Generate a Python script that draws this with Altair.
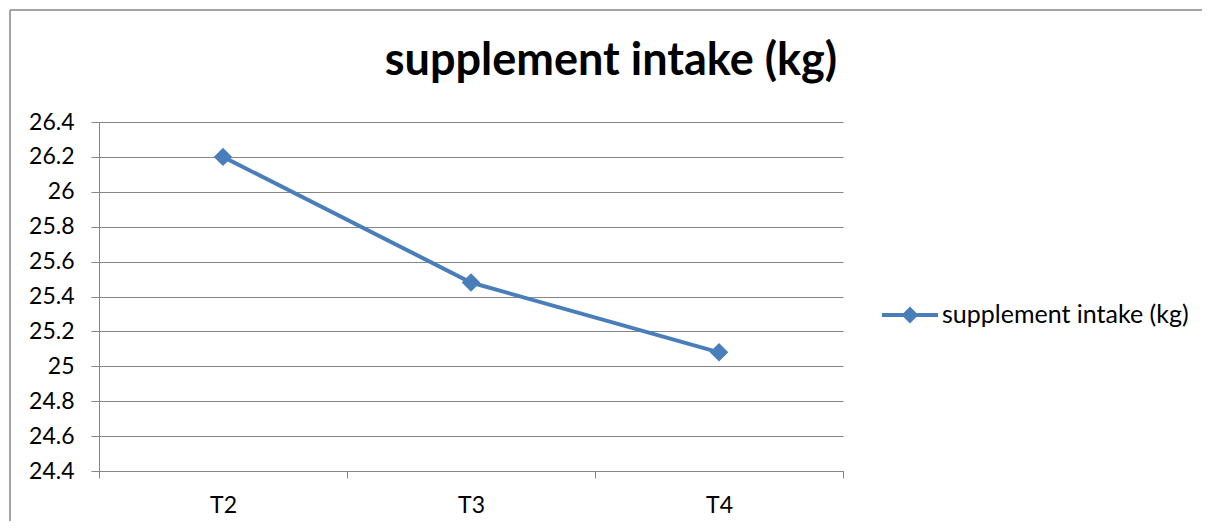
import altair as alt
import pandas as pd

categories = ["T2", "T3", "T4"]
values = [26.2, 25.48, 25.08]
series_name = "supplement intake (kg)"
chart_title = "supplement intake (kg)"
y_ticks = [24.4, 24.6, 24.8, 25.0, 25.2, 25.4, 25.6, 25.8, 26.0, 26.2, 26.4]

df = pd.DataFrame({"cat": categories, "val": values, "series": [series_name] * len(categories)})

BLUE = "#4a7ebb"
GRAY = "#868686"
FONT = "Lato"

legend_path = ("M-1,-0.071L-0.229,-0.071L0,-0.3L0.229,-0.071L1,-0.071L1,0.071"
               "L0.229,0.071L0,0.3L-0.229,0.071L-1,0.071Z")

x_enc = alt.X("cat:N", sort=categories, title=None,
              scale=alt.Scale(paddingInner=0, paddingOuter=0),
              axis=alt.Axis(tickBand="extent", grid=False, tickSize=7, tickColor=GRAY,
                            domainColor=GRAY, labelAngle=0, labelFont=FONT, labelFontSize=23,
                            labelColor="black", labelPadding=16))
y_enc = alt.Y("val:Q", title=None,
              scale=alt.Scale(domain=[24.4, 26.4], nice=False, zero=False),
              axis=alt.Axis(values=y_ticks, format="~g", grid=True, gridColor=GRAY,
                            tickColor=GRAY, domainColor=GRAY, tickSize=8, labelFont=FONT,
                            labelFontSize=23, labelColor="black", labelPadding=17))

base = alt.Chart(df)

line = base.mark_line(color=BLUE, strokeWidth=4).encode(x=x_enc, y=y_enc)

points = base.mark_point(filled=True, shape="diamond", size=340, opacity=1).encode(
    x=x_enc, y=y_enc,
    color=alt.Color("series:N", scale=alt.Scale(range=[BLUE]), title=None,
                    legend=alt.Legend(orient="none", legendX=783, legendY=165, padding=0,
                                      symbolType=legend_path, symbolSize=3136,
                                      symbolStrokeWidth=0, labelFont=FONT, labelFontSize=25,
                                      labelColor="black", labelLimit=500, labelOffset=4)),
)

one = pd.DataFrame({"a": [0]})
frame_left = alt.Chart(one).mark_rule(color=GRAY, strokeWidth=1.5).encode(
    x=alt.value(-89), y=alt.value(-112), y2=alt.value(420))
frame_top = alt.Chart(one).mark_rule(color=GRAY, strokeWidth=1.5).encode(
    x=alt.value(-89), x2=alt.value(1200), y=alt.value(-112))
title_text = alt.Chart(one).mark_text(
    text=chart_title, font=FONT, fontSize=45, fontWeight="bold", color="black",
    align="center", baseline="alphabetic").encode(x=alt.value(512), y=alt.value(-47))

chart = alt.layer(frame_left, frame_top, title_text, line, points).properties(
    width=744, height=349,
    autosize=alt.AutoSizeParams(type="none"),
    padding={"left": 91, "top": 114, "right": 359, "bottom": 50},
).configure_view(stroke=None)

chart.save("out.html", embed_options={"renderer": "svg", "actions": False})
